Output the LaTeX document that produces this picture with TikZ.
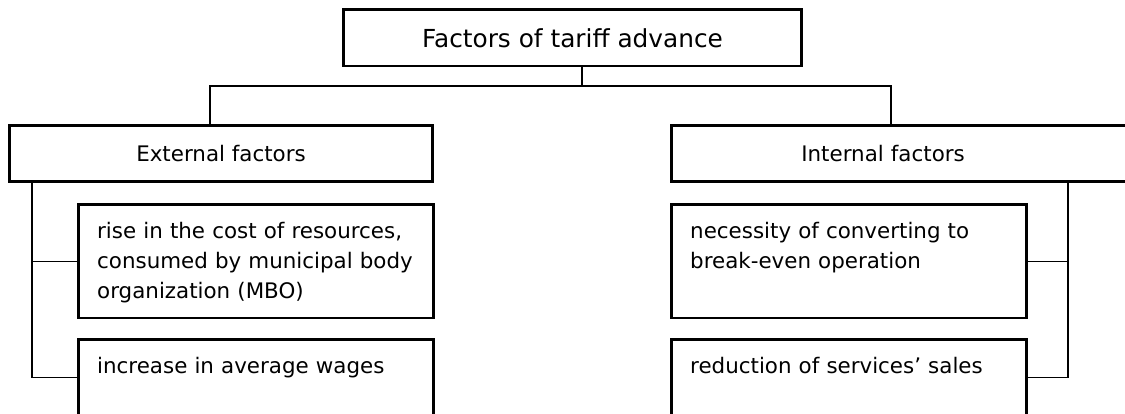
\documentclass[tikz,border=0pt]{standalone}
\usepackage{fontspec}
\setmainfont{DejaVu Sans}
\usetikzlibrary{positioning}
\tikzset{
	headbox/.style={draw, line width=2.7pt, inner sep=0pt, minimum height=56.3pt},
	itembox/.style={draw, line width=2.7pt, anchor=north west, text width=318pt, align=left,
		inner xsep=18.5pt, inner ysep=17.65pt, text height=16pt},
	link/.style={line width=1.3pt}
}

\begin{document}
\begin{tikzpicture}[x=1pt,y=-1pt,font=\fontsize{21.4}{30}\selectfont]
%                 (top)
%                   |
%        (ext) ------------- (int)
%     |    (e1)          (i1)    |
%     |    (e2)          (i2)    |

	\useasboundingbox (0,0) rectangle (1125,414);

	\node[headbox, minimum width=458.3pt, font=\fontsize{24.8}{30}\selectfont] (top) at (572.5,38) {Factors of tariff advance};
	\node[headbox, minimum width=423.3pt] (ext) at (221,153.5) {External factors};
	\node[headbox, anchor=west, inner xsep=129.65pt, text width=210pt, align=left] (int) at (670.35,153.5) {Internal factors};

	\node[itembox, text depth=62pt] (e1) at (77.35,203.35) {rise in the cost of resources,\\consumed by municipal body\\organization (MBO)};
	\node[itembox, text depth=24.85pt] (e2) at (77.35,338.35) {increase in average wages};
	\node[itembox, text depth=62pt] (i1) at (670.35,203.35) {necessity of converting to\\break-even operation};
	\node[itembox, text depth=24.85pt] (i2) at (670.35,338.35) {reduction of services' sales};

	\coordinate (fork) at (582,86); \coordinate (L) at (210,86); \coordinate (R) at (891,86);
	\coordinate (lt) at (32,0); \coordinate (rt) at (1068,0);

	\draw[link] (top.south -| fork)--(fork);
	\draw[link] (ext.north -| L)--(L)--(R)--(int.north -| R);

	\draw[link] (ext.south -| lt) |- (e2.west) (e1.west)--(e1.west -| lt);
	\draw[link] (int.south -| rt) |- (i2.east) (i1.east)--(i1.east -| rt);

\end{tikzpicture}
\end{document}
